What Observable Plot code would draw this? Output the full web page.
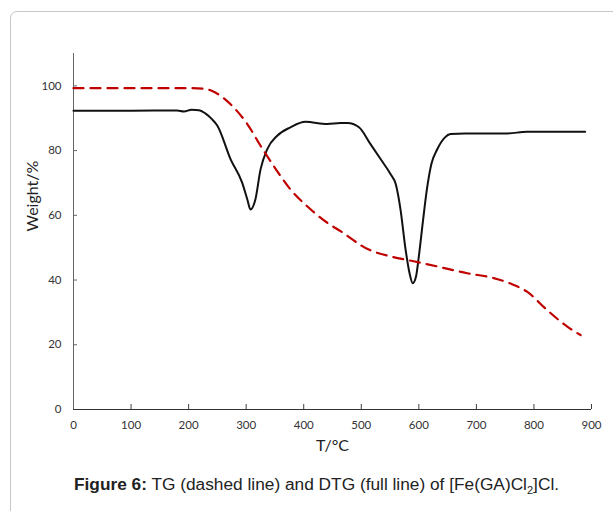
<!DOCTYPE html>
<html>
<head>
<meta charset="utf-8">
<script src="https://cdn.jsdelivr.net/npm/d3@7"></script>
<script src="https://cdn.jsdelivr.net/npm/@observablehq/plot@0.6"></script>
<style>
  html, body { margin: 0; padding: 0; background: #fff; overflow: hidden; width: 613px; height: 511px; }
  #frame { position: absolute; left: 10px; top: 11px; width: 700px; height: 600px; border: 1px solid #c8c8c8; border-radius: 7px; box-sizing: border-box; }
  #chart { position: absolute; left: 0; top: 0; }
  #caption { position: absolute; left: 0; width: 633px; top: 474px; text-align: center; font-family: "Liberation Sans", Arial, sans-serif; font-size: 17.3px; color: #222; white-space: nowrap; }
  #caption b { font-weight: bold; }
</style>
</head>
<body>
<div id="frame"></div>
<div id="chart"></div>
<div id="caption"><b>Figure 6:</b> TG (dashed line) and DTG (full line) of [Fe(GA)Cl<sub style="font-size:11px;vertical-align:-4px;line-height:0">2</sub>]Cl.</div>
<script>
// TG curve (dashed red)
const tgT = [0, 100, 200, 226, 240, 255, 278, 302, 325, 348, 377, 406, 441, 464, 513, 551, 591, 632, 684, 730, 765, 788, 823, 858, 881];
const tgW = [99.3, 99.3, 99.3, 99.1, 98.5, 97.0, 93.4, 88.2, 81.5, 75.2, 68.0, 62.8, 57.7, 55.1, 49.4, 47.3, 45.8, 44.2, 42.1, 40.6, 38.5, 36.4, 30.7, 25.6, 23.0];

// DTG curve (full black)
const dtgT = [0, 100, 180, 192, 205, 218, 229, 240, 250, 273, 293, 302, 307.5, 316, 325, 336.5, 354, 377, 403, 441, 464, 476, 496, 516, 535, 551, 560, 568, 577, 584, 589.5, 595, 600, 607, 614, 622, 632, 645, 655, 680, 707, 753, 788, 889];
const dtgW = [92.3, 92.3, 92.4, 92.1, 92.6, 92.5, 91.5, 89.8, 87.7, 77.3, 70.1, 64.9, 61.8, 64.9, 74.2, 80.4, 84.6, 87.2, 88.9, 88.2, 88.5, 88.5, 87.2, 82.0, 77.0, 72.7, 69.6, 62.0, 49.4, 42.0, 39.0, 41.0, 47.3, 58.0, 68.0, 76.0, 80.4, 84.0, 85.1, 85.3, 85.3, 85.3, 85.8, 85.8];

const xTicks = [0, 100, 200, 300, 400, 500, 600, 700, 800, 900];
const yTicks = [0, 20, 40, 60, 80, 100];
const xLabel = "T/°C";
const yLabel = "Weight/%";

const tg = tgT.map((t, i) => ({t, w: tgW[i]}));
const dtg = dtgT.map((t, i) => ({t, w: dtgW[i]}));

const plot = Plot.plot({
  width: 613,
  height: 460,
  marginLeft: 73,
  marginRight: 22,
  marginTop: 53,
  marginBottom: 51,
  style: {fontFamily: "Lato, sans-serif", fontSize: "11.5px", color: "#333", background: "transparent"},
  x: {domain: [0, 900]},
  y: {domain: [0, 110]},
  marks: [
    Plot.axisX({ticks: xTicks, tickSize: 0, tickPadding: 11, tickFormat: d => String(d), label: null, fill: "#333"}),
    Plot.axisX({ticks: xTicks, tickSize: -5, tickFormat: () => "", label: null, stroke: "#404040"}),
    Plot.axisY({ticks: yTicks, tickSize: 0, tickPadding: 12, tickFormat: d => String(d), label: null, fill: "#333"}),
    Plot.axisY({ticks: yTicks, tickSize: -4, tickFormat: () => "", label: null, stroke: "#666"}),
    Plot.ruleX([0], {stroke: "#666", strokeWidth: 1}),
    Plot.ruleY([0], {stroke: "#333", strokeWidth: 1}),
    Plot.line(dtg, {x: "t", y: "w", stroke: "#111", strokeWidth: 2, curve: "monotone-x"}),
    Plot.line(tg, {x: "t", y: "w", stroke: "#c00000", strokeWidth: 2.2, strokeDasharray: "10,7", curve: "monotone-x"}),
    Plot.text([xLabel], {frameAnchor: "bottom", dy: 41, fontSize: 16, fill: "#222", fontFamily: "Lato, sans-serif"}),
    Plot.text([yLabel], {frameAnchor: "left", dx: -41, rotate: -90, fontSize: 16, fill: "#222", fontFamily: "Lato, sans-serif"})
  ]
});
document.getElementById("chart").appendChild(plot);
</script>
</body>
</html>
